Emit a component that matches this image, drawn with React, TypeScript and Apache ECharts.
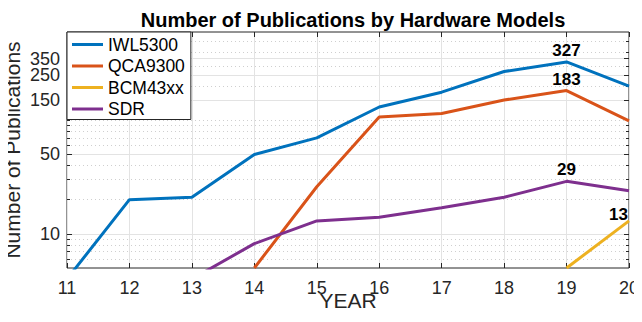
import React, { useEffect, useRef } from "react";
import * as echarts from "echarts";

const years = [11, 12, 13, 14, 15, 16, 17, 18, 19, 20];
const iwl5300 = [4, 20, 21, 50, 70, 131, 177, 269, 327, 200];
const qca9300 = [null, null, null, 5, 26, 107, 115, 151, 183, 99];
const bcm43xx = [null, null, null, null, null, null, null, null, 5, 13];
const sdr = [null, null, 4, 8.2, 13, 14, 17, 21, 29, 24];
// order chosen so that no two neighbouring labels in the list overlap
const yMajorTicks = [10, 50, 350, 150, 250];
const yMinorTicks = [6, 7, 8, 9, 20, 30, 40, 60, 70, 80, 90, 100, 200, 300, 400, 500];
const labelled: Record<string, number[]> = {
  IWL5300: [19],
  QCA9300: [19],
  BCM43xx: [20],
  SDR: [19],
};

const FONT = "Liberation Sans";
const AXIS_COLOR = "#262626";

export default function App() {
  const ref = useRef<HTMLDivElement>(null);
  useEffect(() => {
    if (!ref.current) return;
    const chart = echarts.init(ref.current, undefined, { renderer: "svg", width: 642, height: 322 });
    const mk = (name: string, vals: (number | null)[], color: string, lblPos: any) => ({
      name,
      type: "line",
      yAxisIndex: 0,
      xAxisIndex: 0,
      showSymbol: true,
      symbol: "circle",
      symbolSize: 0,
      clip: true,
      lineStyle: { color, width: 3 },
      itemStyle: { color },
      emphasis: { disabled: true },
      labelLayout: { hideOverlap: false },
      data: years.map((y, i) => {
        const v = vals[i];
        if (v === null) return [y, null];
        if (labelled[name].includes(y)) {
          return {
            value: [y, v],
            label: {
              show: true,
              formatter: String(v),
              fontFamily: FONT,
              fontWeight: "bold",
              fontSize: 17,
              color: "#000",
              ...lblPos,
            },
          };
        }
        return [y, v];
      }),
    });
    const logAxis = (pos: string, custom: number[], opts: any) => ({
      type: "log",
      position: pos,
      min: 5,
      max: 600,
      logBase: 10,
      axisLine: { show: false },
      axisTick: { show: true, inside: true, length: 5, customValues: custom, lineStyle: { color: AXIS_COLOR } },
      axisLabel: { show: false, customValues: custom },
      splitLine: { show: false },
      ...opts,
    });
    chart.setOption({
      animation: false,
      title: {
        text: "Number of Publications by Hardware Models",
        left: 348,
        textAlign: "center",
        top: 5,
        textStyle: { fontFamily: FONT, fontWeight: "bold", fontSize: 20, color: "#000" },
      },
      legend: {
        orient: "vertical",
        left: 67,
        top: 32,
        icon: "rect",
        itemWidth: 31,
        itemHeight: 3,
        itemGap: 0.5,
        padding: [2, 6, 0, 5],
        backgroundColor: "#fff",
        borderColor: AXIS_COLOR,
        borderWidth: 1,
        borderRadius: 0,
        textStyle: { fontFamily: FONT, fontSize: 17.5, lineHeight: 21, color: "#000", padding: [0, 0, 0, 0] },
        data: ["IWL5300", "QCA9300", "BCM43xx", "SDR"],
      },
      grid: {
        left: 67, top: 32, width: 562, height: 236,
        containLabel: false,
        outerBoundsMode: "none",
        show: true, borderColor: AXIS_COLOR, borderWidth: 1, backgroundColor: "transparent",
      },
      xAxis: [
        {
          type: "value",
          min: 11,
          max: 20,
          interval: 1,
          name: "YEAR",
          nameLocation: "middle",
          nameGap: 22,
          nameMoveOverlap: false,
          nameTextStyle: { fontFamily: FONT, fontSize: 21, color: AXIS_COLOR },
          axisLine: { show: false },
          axisTick: { show: true, inside: true, length: 5, lineStyle: { color: AXIS_COLOR } },
          axisLabel: { fontFamily: FONT, fontSize: 18, color: AXIS_COLOR, margin: 11 },
          splitLine: { show: true, lineStyle: { color: "#e3e3e3", width: 1 } },
        },
        {
          type: "value",
          position: "top",
          min: 11,
          max: 20,
          interval: 1,
          axisLine: { show: false },
          axisTick: { show: true, inside: true, length: 5, lineStyle: { color: AXIS_COLOR } },
          axisLabel: { show: false },
          splitLine: { show: false },
        },
      ],
      yAxis: [
        logAxis("left", yMajorTicks, {
          name: "Number of Publications",
          nameLocation: "middle",
          nameGap: 44,
          nameMoveOverlap: false,
          nameTextStyle: { fontFamily: FONT, fontSize: 21, color: AXIS_COLOR },
          axisLabel: { show: true, customValues: yMajorTicks, fontFamily: FONT, fontSize: 18, color: AXIS_COLOR, margin: 7 },
          splitLine: { show: true, lineStyle: { color: "#e3e3e3", width: 1 } },
        }),
        logAxis("left", yMinorTicks, {
          axisTick: { show: true, inside: true, length: 3, customValues: yMinorTicks, lineStyle: { color: AXIS_COLOR } },
          splitLine: { show: true, lineStyle: { color: "#cfcfcf", width: 1, type: [1, 3] } },
        }),
        logAxis("right", yMajorTicks, {}),
        logAxis("right", yMinorTicks, {
          axisTick: { show: true, inside: true, length: 3, customValues: yMinorTicks, lineStyle: { color: AXIS_COLOR } },
        }),
      ],
      series: [
        mk("IWL5300", iwl5300, "#0072BD", { position: "top", distance: 3 }),
        mk("QCA9300", qca9300, "#D95319", { position: "top", distance: 3 }),
        mk("BCM43xx", bcm43xx, "#EDB120", { position: [-1, -6], align: "right", verticalAlign: "middle" }),
        mk("SDR", sdr, "#7E2F8E", { position: "top", distance: 3 }),
      ],
    });
    return () => chart.dispose();
  }, []);
  return <div ref={ref} style={{ width: 642, height: 322, margin: -8 }} />;
}
